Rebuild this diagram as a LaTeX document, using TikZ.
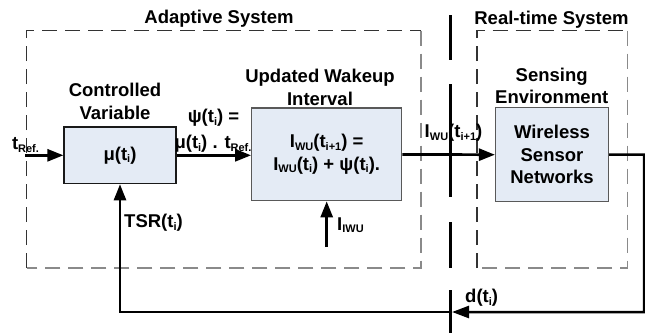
\documentclass[tikz,border=0pt]{standalone}
\usepackage{fontspec}
\setmainfont{Liberation Sans}
\usetikzlibrary{arrows.meta}
\definecolor{boxfill}{HTML}{E4EBF5}
\definecolor{dashdark}{HTML}{333333}
\definecolor{dashlight}{HTML}{8A8A8A}
\newcommand{\sbs}[1]{\raisebox{-0.25ex}{\fontsize{11}{11}\selectfont #1}}
\begin{document}
\begin{tikzpicture}[x=1pt,y=-1pt,
  lbl/.style={font=\fontsize{18.5}{22.5}\selectfont\bfseries, inner sep=0pt, align=center},
  blk/.style={lbl, draw=black!65, line width=1.2pt, fill=boxfill},
  arr/.style={line width=2.7pt, -{Triangle[length=16pt,width=12pt]}},
  fb/.style={line width=2.5pt},
  dashdk/.style={draw=dashdark, line width=1.2pt, dash pattern=on 15pt off 8pt},
  dashlt/.style={draw=dashlight, line width=1.5pt, dash pattern=on 15pt off 8pt},
  brk/.style={line width=3pt, black}
]
\useasboundingbox (0,0) rectangle (645,333);

% dashed system frames
\draw[dashdk] (26.7,268) -- (26.7,30.7) -- (421,30.7);
\draw[dashlt] (421,30.7) -- (421,268) -- (26.7,268);
\draw[dashdk] (477,268) -- (477,30.7) -- (627.7,30.7);
\draw[dashlt] (627.7,30.7) -- (627.7,268) -- (477,268);

\node[lbl] (adtitle) at (219,19) {Adaptive System};
\node[lbl] (rttitle) at (551.5,19.5) {Real-time System};

% blocks
\node[blk, draw=black!90, minimum width=112pt, minimum height=56.7pt] (ctrl) at (120,155.3) {μ(t\sbs{i})};
\node[blk, minimum width=150pt, minimum height=92.7pt] (upd) at (326.7,154.4) {I\sbs{WU}(t\sbs{i+1}) =\\I\sbs{WU}(t\sbs{i}) + ψ(t\sbs{i}).};
\node[blk, minimum width=113pt, minimum height=94pt] (wsn) at (552,154.7) {Wireless\\Sensor\\Networks};

\node[lbl] (ctitle) at (115,101.5) {Controlled\\Variable};
\node[lbl] (utitle) at (320,87.5) {Updated Wakeup\\Interval};
\node[lbl] (stitle) at (551.7,86) {Sensing\\Environment};

% break line
\coordinate (b1) at (450.7,15);  \coordinate (b2) at (450.7,60);
\coordinate (b3) at (450.7,84);  \coordinate (b4) at (450.7,197);
\coordinate (b5) at (450.7,222); \coordinate (b6) at (450.7,268);
\coordinate (b7) at (450.7,290); \coordinate (b8) at (450.7,333);
\draw[brk] (b1) -- (b2) (b3) -- (b4) (b5) -- (b6) (b7) -- (b8);

% forward path
\coordinate (tin) at (25,155.3);
\draw[arr] (tin) -- (ctrl.west);
\node[lbl] (tref) at (25.5,145) {t\sbs{Ref.}};

\draw[arr] (ctrl.east) -- (ctrl.east -| upd.west);
\node[lbl] (psi1) at (213.5,118) {ψ(t\sbs{i}) =};
\node[lbl] (psi2) at (213,144) {μ(t\sbs{i}) . t\sbs{Ref.}};

\draw[arr] (upd.east) -- (wsn.west);
\node[lbl] (iwu) at (453.5,133) {I\sbs{WU}(t\sbs{i+1})};

\coordinate (iin) at (326.7,247);
\draw[arr] (iin) -- (upd.south);
\node[lbl, anchor=west] (iiwu) at (337,225) {I\sbs{IWU}};

% feedback
\coordinate (fr) at (644,154.5);
\coordinate (dpt) at (452,312);
\draw[fb, -{Triangle[length=17pt,width=12pt]}] (wsn.east) -- (fr) |- (dpt);
\draw[fb, -{Triangle[length=16pt,width=12pt]}] (dpt) -| (ctrl.south);
\node[lbl, anchor=west] (dlab) at (465,298) {d(t\sbs{i})};
\node[lbl, anchor=west] (tsr) at (124,223) {TSR(t\sbs{i})};
\end{tikzpicture}
\end{document}
